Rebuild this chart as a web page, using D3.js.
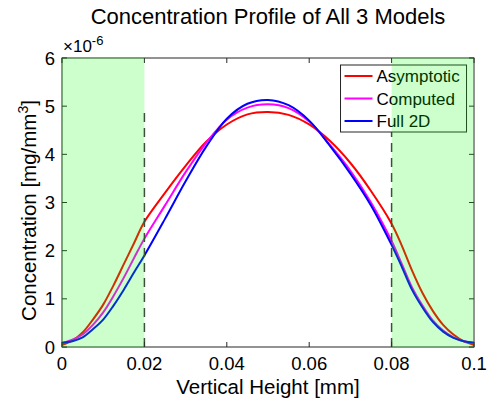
<!DOCTYPE html>
<html>
<head>
<meta charset="utf-8">
<script src="https://cdn.jsdelivr.net/npm/d3@7/dist/d3.min.js"></script>
<style>
  body { margin: 0; background: #fff; }
  svg text { font-family: "Liberation Sans", Arial, Helvetica, sans-serif; fill: #000; }
</style>
</head>
<body>
<div id="chart"></div>
<script>
// data (concentration in units of 1e-6 mg/mm^3)
var heights = [0, 0.0025, 0.005, 0.0075, 0.01, 0.0125, 0.015, 0.0175, 0.02,
               0.025, 0.03, 0.035, 0.04, 0.045, 0.05, 0.055, 0.06, 0.065, 0.07, 0.075,
               0.08, 0.0825, 0.085, 0.0875, 0.09, 0.0925, 0.095, 0.0975, 0.1];
var asymptotic = [0.04, 0.13, 0.30, 0.57, 0.88, 1.28, 1.72, 2.16, 2.60,
                  3.20, 3.76, 4.26, 4.62, 4.83, 4.88, 4.82, 4.62, 4.28, 3.82, 3.24,
                  2.56, 2.10, 1.58, 1.12, 0.75, 0.46, 0.26, 0.12, 0.04];
var computed   = [0.08, 0.15, 0.26, 0.46, 0.72, 1.06, 1.44, 1.85, 2.25,
                  2.94, 3.63, 4.24, 4.72, 4.97, 5.04, 4.96, 4.68, 4.20, 3.66, 3.00,
                  2.20, 1.72, 1.23, 0.86, 0.55, 0.34, 0.20, 0.12, 0.09];
var full2d     = [0.09, 0.12, 0.20, 0.37, 0.57, 0.86, 1.19, 1.55, 1.90,
                  2.66, 3.44, 4.16, 4.74, 5.05, 5.13, 5.02, 4.70, 4.18, 3.60, 2.94,
                  2.12, 1.66, 1.18, 0.82, 0.52, 0.32, 0.19, 0.12, 0.09];
var seriesNames = ["Asymptotic", "Computed", "Full 2D"];
var xTicks = [0, 0.02, 0.04, 0.06, 0.08, 0.1];
var yTicks = [0, 1, 2, 3, 4, 5, 6];
var zones = [[0, 0.02], [0.08, 0.1]];

var W = 488, H = 402;
var m = {top: 58, right: 14, bottom: 55, left: 62};
var w = W - m.left - m.right, h = H - m.top - m.bottom;
var colors = ["#ff0000", "#ff00ff", "#0000ff"];
var allSeries = [asymptotic, computed, full2d];

var svg = d3.select("#chart").append("svg")
    .attr("width", W).attr("height", H);

var x = d3.scaleLinear().domain([0, 0.1]).range([0, w]);
var y = d3.scaleLinear().domain([0, 6]).range([h, 0]);

var g = svg.append("g").attr("transform", "translate(" + m.left + "," + m.top + ")");

// curves
var line = d3.line()
    .x(function (d, i) { return x(heights[i]); })
    .y(function (d) { return y(d); })
    .curve(d3.curveCatmullRom.alpha(0.5));

allSeries.forEach(function (s, k) {
  g.append("path")
    .attr("d", line(s))
    .attr("fill", "none")
    .attr("stroke", colors[k])
    .attr("stroke-width", 2);
});

// dashed boundaries
var dashTop = d3.max(asymptotic);
[0.02, 0.08].forEach(function (v) {
  g.append("line")
    .attr("x1", x(v)).attr("x2", x(v))
    .attr("y1", y(0)).attr("y2", y(dashTop))
    .attr("stroke", "#404040").attr("stroke-width", 1.5)
    .attr("stroke-dasharray", "9,6");
});

// axes box + ticks
var axisColor = "#262626";
var tickLen = 5;
g.append("rect").attr("width", w).attr("height", h)
  .attr("fill", "none").attr("stroke", axisColor).attr("stroke-width", 1);

xTicks.forEach(function (t) {
  g.append("line").attr("x1", x(t)).attr("x2", x(t)).attr("y1", h).attr("y2", h - tickLen)
    .attr("stroke", axisColor);
  g.append("line").attr("x1", x(t)).attr("x2", x(t)).attr("y1", 0).attr("y2", tickLen)
    .attr("stroke", axisColor);
  g.append("text").attr("x", x(t)).attr("y", h + 23)
    .attr("text-anchor", "middle").style("font-size", "18.5px")
    .text(t === 0 ? "0" : d3.format(".2~f")(t));
});
yTicks.forEach(function (t) {
  g.append("line").attr("x1", 0).attr("x2", tickLen).attr("y1", y(t)).attr("y2", y(t))
    .attr("stroke", axisColor);
  g.append("line").attr("x1", w).attr("x2", w - tickLen).attr("y1", y(t)).attr("y2", y(t))
    .attr("stroke", axisColor);
  g.append("text").attr("x", -7).attr("y", y(t)).attr("dy", "0.36em")
    .attr("text-anchor", "end").style("font-size", "18.5px")
    .text(t);
});

// exponent label
var ex = g.append("text").attr("x", 1).attr("y", -6).style("font-size", "17px");
ex.append("tspan").text("\u00d710");
ex.append("tspan").attr("dy", -7).style("font-size", "13px").text("-6");

// legend
var lg = g.append("g").attr("transform", "translate(" + (x(0.0676)) + ",7)");
lg.append("rect").attr("width", 126).attr("height", 67)
  .attr("fill", "#fff").attr("stroke", axisColor).attr("stroke-width", 1);
seriesNames.forEach(function (n, k) {
  var yy = 11 + k * 22.5;
  lg.append("line").attr("x1", 4).attr("x2", 32).attr("y1", yy).attr("y2", yy)
    .attr("stroke", colors[k]).attr("stroke-width", 2);
  lg.append("text").attr("x", 36).attr("y", yy).attr("dy", "0.36em")
    .style("font-size", "17px").text(n);
});

// translucent green zones on top
zones.forEach(function (z) {
  g.append("rect")
    .attr("x", x(z[0])).attr("width", x(z[1]) - x(z[0]))
    .attr("y", y(6)).attr("height", y(0) - y(6))
    .attr("fill", "#00ff00").attr("fill-opacity", 0.2);
});

// titles
svg.append("text").attr("x", m.left + w / 2).attr("y", 24)
  .attr("text-anchor", "middle").style("font-size", "22px")
  .text("Concentration Profile of All 3 Models");
svg.append("text").attr("x", m.left + w / 2).attr("y", 394)
  .attr("text-anchor", "middle").style("font-size", "20.5px")
  .text("Vertical Height [mm]");
var yl = svg.append("text")
  .attr("transform", "translate(36," + (m.top + h / 2 + 8) + ") rotate(-90)")
  .attr("text-anchor", "middle").style("font-size", "20.5px");
yl.append("tspan").text("Concentration [mg/mm");
yl.append("tspan").attr("dy", -8).style("font-size", "14px").text("3");
yl.append("tspan").attr("dy", 8).text("]");
</script>
</body>
</html>
